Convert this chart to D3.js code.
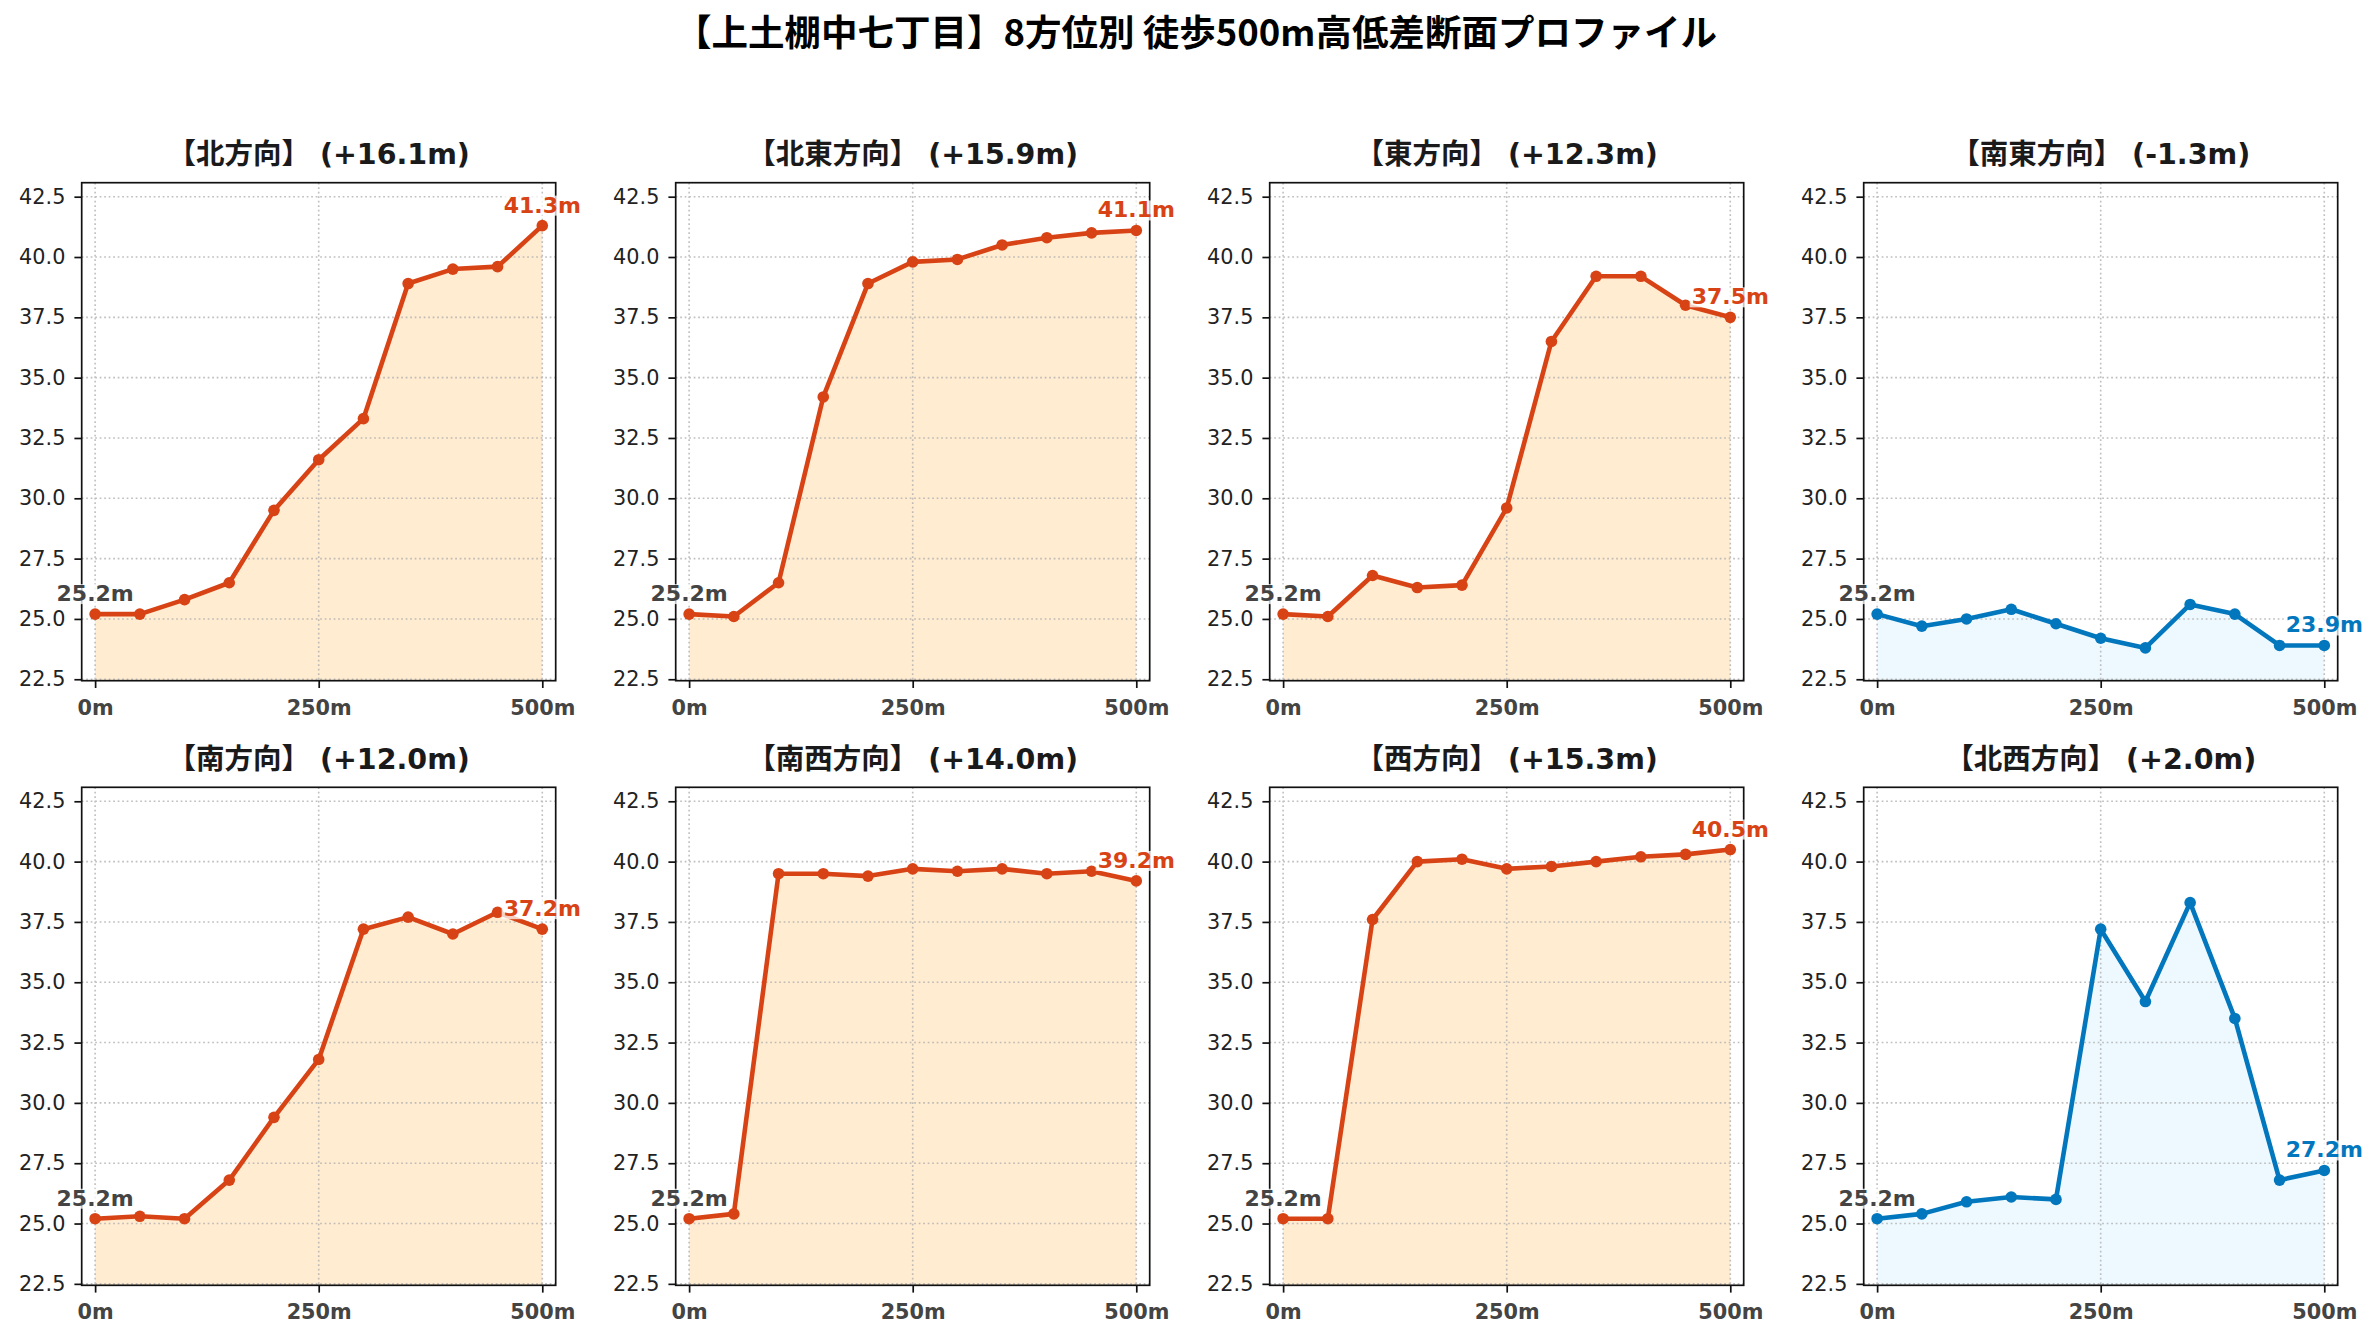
<!DOCTYPE html>
<html>
<head>
<meta charset="utf-8">
<script src="https://cdn.jsdelivr.net/npm/d3@7"></script>
<style>
    body { margin: 0; background: #fff; }
    text { font-family: "DejaVu Sans", "Noto Sans CJK JP", sans-serif; }
</style>
</head>
<body>
<div id="chart"></div>
<script>
// data
var distances = [0, 50, 100, 150, 200, 250, 300, 350, 400, 450, 500];
var directions = ["北", "北東", "東", "南東", "南", "南西", "西", "北西"];

var elevNorth     = [25.2, 25.2, 25.8, 26.5, 29.5, 31.6, 33.3, 38.9, 39.5, 39.6, 41.3];
var elevNorthEast = [25.2, 25.1, 26.5, 34.2, 38.9, 39.8, 39.9, 40.5, 40.8, 41.0, 41.1];
var elevEast      = [25.2, 25.1, 26.8, 26.3, 26.4, 29.6, 36.5, 39.2, 39.2, 38.0, 37.5];
var elevSouthEast = [25.2, 24.7, 25.0, 25.4, 24.8, 24.2, 23.8, 25.6, 25.2, 23.9, 23.9];
var elevSouth     = [25.2, 25.3, 25.2, 26.8, 29.4, 31.8, 37.2, 37.7, 37.0, 37.9, 37.2];
var elevSouthWest = [25.2, 25.4, 39.5, 39.5, 39.4, 39.7, 39.6, 39.7, 39.5, 39.6, 39.2];
var elevWest      = [25.2, 25.2, 37.6, 40.0, 40.1, 39.7, 39.8, 40.0, 40.2, 40.3, 40.5];
var elevNorthWest = [25.2, 25.4, 25.9, 26.1, 26.0, 37.2, 34.2, 38.3, 33.5, 26.8, 27.2];

var series = [elevNorth, elevNorthEast, elevEast, elevSouthEast,
              elevSouth, elevSouthWest, elevWest, elevNorthWest];

var xTicks = [0, 250, 500];
var yTicks = [22.5, 25.0, 27.5, 30.0, 32.5, 35.0, 37.5, 40.0, 42.5];

var chartTitle = "【上土棚中七丁目】8方位別 徒歩500m高低差断面プロファイル";

// parameters
var svgWidth = 2380;
var svgHeight = 1340;

var panel = {
    left: 81.7,
    top: 182.7,
    width: 474,
    height: 498,
    stepX: 594,
    stepY: 604.6
};

var upColor = { line: "#D84315", fill: "#FFE0B2" };
var flatColor = { line: "#0277BD", fill: "#E1F5FE" };

var xDomain = [-15, 515];
var yDomain = [22.44, 43.08];

var svg = d3.select("#chart")
    .append("svg")
    .attr("width", svgWidth)
    .attr("height", svgHeight);

svg.append("text")
    .attr("x", 1196)
    .attr("y", 46)
    .attr("text-anchor", "middle")
    .attr("font-size", "36.5px")
    .attr("font-weight", "bold")
    .style("font-family", "'Noto Sans CJK JP', sans-serif")
    .attr("fill", "#000")
    .text(chartTitle);

series.forEach(function (values, i) {
    createPanel(values, directions[i], i);
});

function signed(v) {
    return (v >= 0 ? "+" : "") + v.toFixed(1);
}

function createPanel(values, direction, index) {
    var col = index % 4;
    var row = Math.floor(index / 4);
    var w = panel.width;
    var h = panel.height;

    var diff = values[values.length - 1] - values[0];
    var colors = diff >= 5 ? upColor : flatColor;

    var g = svg.append("g")
        .attr("transform", `translate(${panel.left + col * panel.stepX}, ${panel.top + row * panel.stepY})`);

    var xScale = d3.scaleLinear().domain(xDomain).range([0, w]);
    var yScale = d3.scaleLinear().domain(yDomain).range([h, 0]);

    var clipId = "clip" + index;
    g.append("clipPath").attr("id", clipId)
        .append("rect").attr("width", w).attr("height", h);

    var points = distances.map((d, j) => ({ x: d, y: values[j] }));

    // fill under the profile
    var area = d3.area()
        .x(d => xScale(d.x))
        .y0(yScale(yDomain[0]))
        .y1(d => yScale(d.y));

    g.append("path")
        .datum(points)
        .attr("clip-path", `url(#${clipId})`)
        .attr("d", area)
        .attr("fill", colors.fill)
        .attr("opacity", 0.6);

    // grid
    var grid = g.append("g")
        .attr("stroke", "#b0b0b0")
        .attr("stroke-width", 1.6)
        .attr("stroke-dasharray", "1.7,2.8")
        .attr("opacity", 0.8);

    grid.selectAll(null)
        .data(yTicks)
        .enter()
        .append("line")
        .attr("x1", 0).attr("x2", w)
        .attr("y1", d => yScale(d)).attr("y2", d => yScale(d));

    grid.selectAll(null)
        .data(xTicks)
        .enter()
        .append("line")
        .attr("y1", 0).attr("y2", h)
        .attr("x1", d => xScale(d)).attr("x2", d => xScale(d));

    // line + markers
    var line = d3.line()
        .x(d => xScale(d.x))
        .y(d => yScale(d.y));

    g.append("path")
        .datum(points)
        .attr("d", line)
        .attr("fill", "none")
        .attr("stroke", colors.line)
        .attr("stroke-width", 4.6)
        .attr("stroke-linejoin", "round");

    g.selectAll("circle")
        .data(points)
        .enter()
        .append("circle")
        .attr("cx", d => xScale(d.x))
        .attr("cy", d => yScale(d.y))
        .attr("r", 5.8)
        .attr("fill", colors.line);

    // axes
    var yAxis = d3.axisLeft(yScale)
        .tickValues(yTicks)
        .tickFormat(d3.format(".1f"))
        .tickSize(7.3)
        .tickPadding(9);

    var xAxis = d3.axisBottom(xScale)
        .tickValues(xTicks)
        .tickFormat(d => d + "m")
        .tickSize(7.3)
        .tickPadding(12);

    var yG = g.append("g").call(yAxis);
    yG.select(".domain").remove();
    yG.selectAll("line").attr("stroke", "#111").attr("stroke-width", 1.7);
    yG.selectAll("text")
        .attr("font-size", "20.8px")
        .attr("fill", "#222")
        .style("font-family", "'DejaVu Sans', sans-serif");

    var xG = g.append("g")
        .attr("transform", `translate(0, ${h})`)
        .call(xAxis);
    xG.select(".domain").remove();
    xG.selectAll("line").attr("stroke", "#111").attr("stroke-width", 1.7);
    xG.selectAll("text")
        .attr("font-size", "20.8px")
        .attr("font-weight", "bold")
        .attr("fill", "#444")
        .style("font-family", "'DejaVu Sans', sans-serif");

    // spine
    g.append("rect")
        .attr("width", w)
        .attr("height", h)
        .attr("fill", "none")
        .attr("stroke", "#111")
        .attr("stroke-width", 1.7);

    // title
    g.append("text")
        .attr("x", w / 2)
        .attr("y", -18.5)
        .attr("text-anchor", "middle")
        .attr("font-size", "28.5px")
        .attr("font-weight", "bold")
        .attr("fill", "#1a1a1a")
        .text(`【${direction}方向】 (${signed(diff)}m)`);

    // start / end labels
    createLabel(g, xScale(points[0].x), yScale(points[0].y), points[0].y.toFixed(1) + "m", "#444");
    var last = points[points.length - 1];
    createLabel(g, xScale(last.x), yScale(last.y), last.y.toFixed(1) + "m", colors.line);
}

function createLabel(g, x, y, label, color) {
    var lg = g.append("g");
    var t = lg.append("text")
        .attr("x", x)
        .attr("y", y - 13)
        .attr("text-anchor", "middle")
        .attr("font-size", "22px")
        .attr("font-weight", "bold")
        .attr("fill", color)
        .style("font-family", "'DejaVu Sans', sans-serif")
        .text(label);

    var bb = t.node().getBBox();
    lg.insert("rect", "text")
        .attr("x", bb.x - 2)
        .attr("y", bb.y + 3)
        .attr("width", bb.width + 4)
        .attr("height", bb.height - 5)
        .attr("fill", "#fff")
        .attr("opacity", 0.75);
}
</script>
</body>
</html>
